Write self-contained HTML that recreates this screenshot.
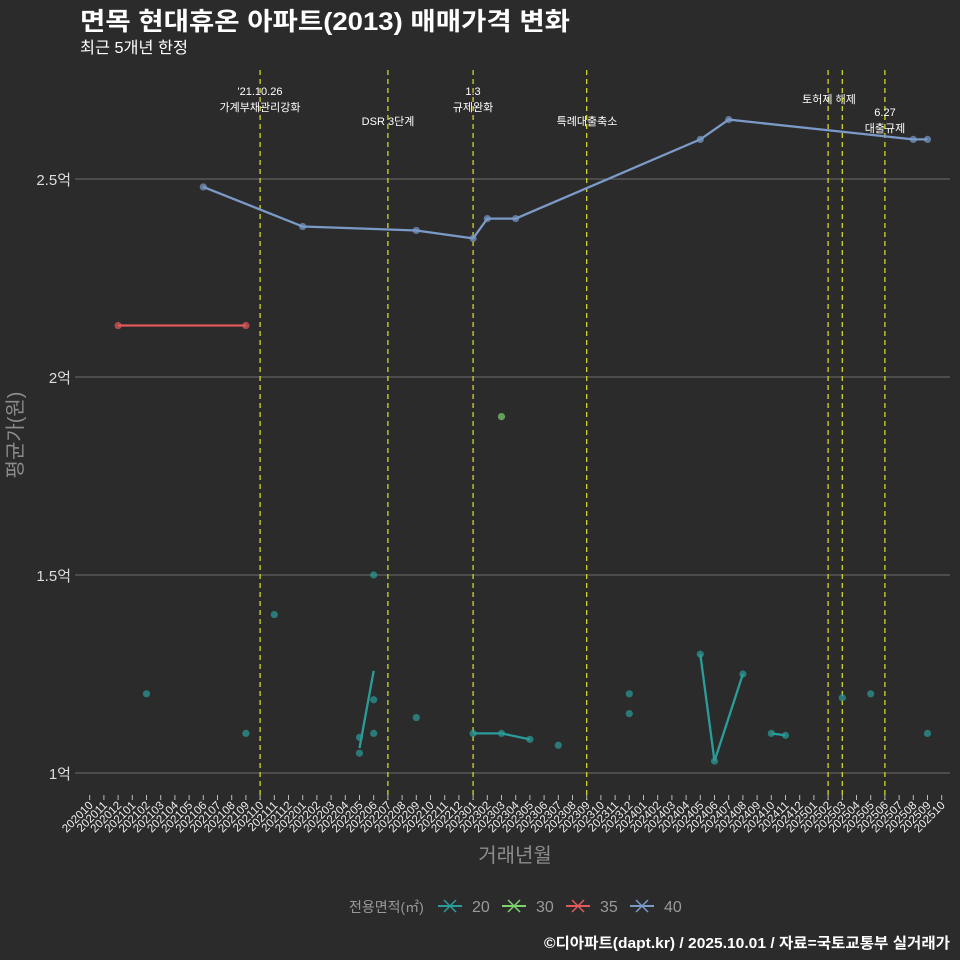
<!DOCTYPE html>
<html><head><meta charset="utf-8">
<style>
html,body{margin:0;padding:0;background:#2b2b2b;}
svg{display:block;font-family:"Liberation Sans","Noto Sans CJK KR",sans-serif;}
</style></head>
<body>
<svg id="chart" width="960" height="960" viewBox="0 0 960 960" xmlns="http://www.w3.org/2000/svg">
<rect width="960" height="960" fill="#2b2b2b"/>
<text x="80" y="30" font-size="25" font-weight="bold" fill="#ffffff" textLength="490" lengthAdjust="spacingAndGlyphs">면목 현대휴온 아파트(2013) 매매가격 변화</text>
<text x="80" y="53" font-size="16" fill="#ffffff" textLength="108" lengthAdjust="spacingAndGlyphs">최근 5개년 한정</text>
<g id="grid"></g>
<g id="vlines"></g>
<g id="series"></g>
<g id="xaxis"></g>
<text x="515" y="862" font-size="20" fill="#8c8c8c" text-anchor="middle">거래년월</text>
<text transform="translate(22,435) rotate(-90)" font-size="20" fill="#8c8c8c" text-anchor="middle">평균가(원)</text>
<g id="legend"></g>
<text x="950" y="948" font-size="15" font-weight="bold" fill="#ffffff" text-anchor="end" textLength="406" lengthAdjust="spacingAndGlyphs">©디아파트(dapt.kr) / 2025.10.01 / 자료=국토교통부 실거래가</text>
</svg>
<script>
const months = [];
for (let y = 2020, m = 10; !(y === 2025 && m === 11); ) { months.push(String(y) + String(m).padStart(2, '0')); m++; if (m > 12) { m = 1; y++; } }
const yTicks = [1, 1.5, 2, 2.5];
const yTickLabels = ['1억', '1.5억', '2억', '2.5억'];
const policyMonths = ['202110', '202207', '202301', '202309', '202502', '202503', '202506'];
const policyLabels = [["'21.10.26", '가계부채관리강화'], ['DSR 3단계'], ['1.3', '규제완화'], ['특례대출축소'], ['토허제 해제'], [], ['6.27', '대출규제']];
const policyLabelY = [[95, 111], [125], [95, 111], [125], [103], [], [116, 132]];
const policyLabelX = [260, 388, 473, 587, 829, 842, 885];
// series data (억)
const s40Months = ['202106', '202201', '202209', '202301', '202302', '202304', '202405', '202407', '202508', '202509'];
const s40Values = [2.48, 2.38, 2.37, 2.35, 2.40, 2.40, 2.60, 2.65, 2.60, 2.60];
const s35Months = ['202012', '202109'];
const s35Values = [2.13, 2.13];
const s30Months = ['202303'];
const s30Values = [1.90];
const s20PointMonths = ['202102', '202109', '202111', '202205', '202205', '202206', '202206', '202206', '202209', '202301', '202303', '202305', '202307', '202312', '202312', '202405', '202406', '202408', '202410', '202411', '202503', '202505', '202509'];
const s20PointValues = [1.20, 1.10, 1.40, 1.09, 1.05, 1.50, 1.185, 1.10, 1.14, 1.10, 1.10, 1.085, 1.07, 1.20, 1.15, 1.30, 1.03, 1.25, 1.10, 1.095, 1.19, 1.20, 1.10];
const s20LineMonths = [['202205', '202206'], ['202301', '202303', '202305'], ['202405', '202406', '202408'], ['202410', '202411']];
const s20LineValues = [[1.063, 1.258], [1.10, 1.10, 1.085], [1.30, 1.03, 1.25], [1.10, 1.095]];

const NS = 'http://www.w3.org/2000/svg';
const X = m => 89.7 + months.indexOf(m) * 14.2;
const Y = v => 773 - (v - 1) * 396;
function mk(tag, attrs, parent) { const e = document.createElementNS(NS, tag); for (const k in attrs) e.setAttribute(k, attrs[k]); parent.appendChild(e); return e; }

const grid = document.getElementById('grid');
yTicks.forEach((v, i) => {
  const l = mk('line', { x1: 75, x2: 950, y1: Y(v), y2: Y(v), stroke: '#6e6e6e', 'stroke-width': 1 }, grid);
  
  
  const t = mk('text', { x: 71, y: Y(v) + 6, 'font-size': 15, fill: '#dddddd', 'text-anchor': 'end' }, grid);
  t.textContent = yTickLabels[i];
  
  
});

const vl = document.getElementById('vlines');
policyMonths.forEach((m, i) => {
  const l = mk('line', { x1: X(m), x2: X(m), y1: 70, y2: 800, stroke: '#d4d42a', 'stroke-width': 1.3, 'stroke-dasharray': '5,4' }, vl);
  
  
  policyLabels[i].forEach((txt, j) => {
    const t = mk('text', { x: policyLabelX[i], y: policyLabelY[i][j], 'font-size': 11, fill: '#ffffff', 'text-anchor': 'middle' }, vl);
    t.textContent = txt;
    
    
  });
});

const xa = document.getElementById('xaxis');
months.forEach(m => {
  const x = X(m);
  const tk = mk('line', { x1: x, x2: x, y1: 795, y2: 800, stroke: '#bbbbbb', 'stroke-width': 1 }, xa);
  
  
  const t = mk('text', { transform: `translate(${x + 4},806) rotate(-45)`, 'font-size': 11.5, fill: '#eeeeee', 'text-anchor': 'end' }, xa);
  t.textContent = m;
  
  
});

const sg = document.getElementById('series');
function line(ms, vs, color, name) {
  const p = mk('polyline', { points: ms.map((m, i) => X(m) + ',' + Y(vs[i])).join(' '), fill: 'none', stroke: color, 'stroke-width': 2.3 }, sg);
  
  
}
function pts(ms, vs, color, name) {
  ms.forEach((m, i) => {
    const c = mk('circle', { cx: X(m), cy: Y(vs[i]), r: 3.6, fill: color, 'fill-opacity': 0.7 }, sg);
    
    
  });
}
const C20 = '#2a9d9a', C30 = '#7ed36f', C35 = '#e05a5a', C40 = '#7b9ac7';
line(s35Months, s35Values, C35, 'line-35');
pts(s35Months, s35Values, C35, 'point-35');
line(s40Months, s40Values, C40, 'line-40');
pts(s40Months, s40Values, C40, 'point-40');
pts(s30Months, s30Values, C30, 'point-30');
s20LineMonths.forEach((ms, k) => line(ms, s20LineValues[k], C20, 'line-20'));
pts(s20PointMonths, s20PointValues, C20, 'point-20');

const lg = document.getElementById('legend');
const lt = mk('text', { x: 349, y: 912, 'font-size': 14, fill: '#999999' }, lg);
lt.textContent = '전용면적(㎡)';


[['20', C20], ['30', C30], ['35', C35], ['40', C40]].forEach((d, i) => {
  const x0 = 438 + i * 64;
  const g = mk('g', {}, lg);
  
  
  mk('line', { x1: x0, x2: x0 + 24, y1: 906, y2: 906, stroke: d[1], 'stroke-width': 2 }, g);
  mk('line', { x1: x0 + 6, x2: x0 + 18, y1: 900, y2: 912, stroke: d[1], 'stroke-width': 1.5 }, g);
  mk('line', { x1: x0 + 6, x2: x0 + 18, y1: 912, y2: 900, stroke: d[1], 'stroke-width': 1.5 }, g);
  const t = mk('text', { x: x0 + 34, y: 912, 'font-size': 16, fill: '#999999' }, g);
  t.textContent = d[0];
});
</script>
</body></html>
